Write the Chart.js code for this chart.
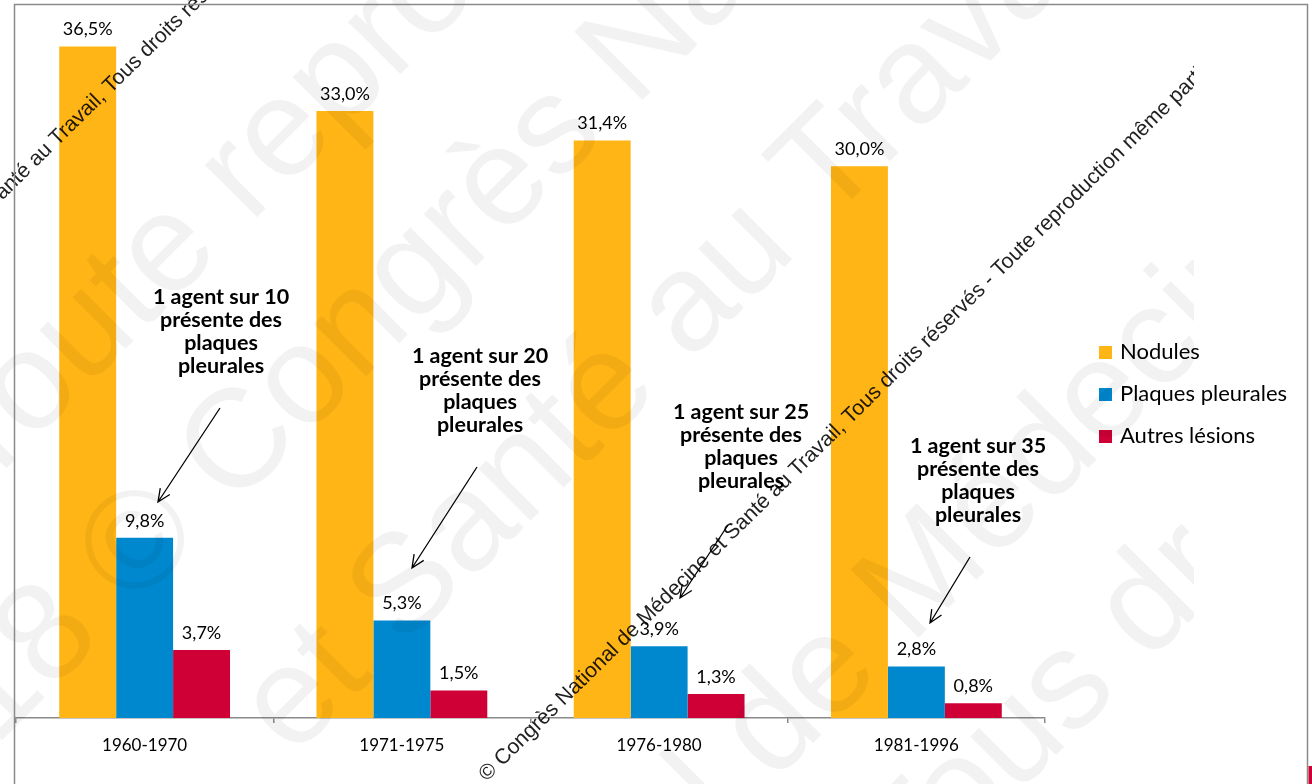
<!DOCTYPE html>
<html lang="fr">
<head>
<meta charset="utf-8">
<title>Lésions radiologiques par période d'embauche</title>
<script src="https://cdn.jsdelivr.net/npm/chart.js@4/dist/chart.umd.min.js"></script>
<style>
  html, body { margin: 0; padding: 0; background: #ffffff; }
  #wrap { width: 1312px; height: 784px; }
</style>
</head>
<body>
<div id="wrap"><canvas id="chart" width="1312" height="784"></canvas></div>
<script>
// Périodes d'embauche (axe des catégories)
const categories = ['1960-1970', '1971-1975', '1976-1980', '1981-1996'];

// Pourcentages par type de lésion
const nodules = [36.5, 33.0, 31.4, 30.0];
const plaquesPleurales = [9.8, 5.3, 3.9, 2.8];
const autresLesions = [3.7, 1.5, 1.3, 0.8];

const seriesNames = ['Nodules', 'Plaques pleurales', 'Autres lésions'];
const seriesColors = ['#FFB515', '#0088CF', '#CE0036'];

// Encadrés de commentaire, un par période
const noteHeads = ['1 agent sur 10', '1 agent sur 20', '1 agent sur 25', '1 agent sur 35'];
const noteTail = ['présente des', 'plaques', 'pleurales'];

// Mise en page des commentaires : centre du texte, première ligne, flèche (départ -> pointe)
const noteLayout = [
  { cx: 221, top: 297, from: [220, 408], to: [158, 502] },
  { cx: 480, top: 356, from: [477, 467], to: [412, 568] },
  { cx: 741, top: 412, from: [728, 525], to: [680, 598] },
  { cx: 978, top: 446, from: [970, 557], to: [930, 623] }
];

const FONT = 'Lato, "Open Sans", "DejaVu Sans", sans-serif';
const WM_FONT = '"Liberation Sans", Arial, sans-serif';
const fmt = v => v.toFixed(1).replace('.', ',') + '%';

// Filigrane : grandes lignes pâles (texte, indice du glyphe repère, centre du glyphe)
const bigMark = [
  { text: 'Toute reproduction même partielle interdite', idx: 1, x: 33, y: 370 },
  { text: '2018 © Congrès National de Médecine et Santé au Travail', idx: 5, x: 133, y: 538 },
  { text: 'et Santé au Travail, Tous droits réservés', idx: 3, x: 400, y: 580 },
  { text: '2018 © Congrès National de Médecine et Santé au Travail', idx: 30, x: 1095, y: 390 },
  { text: 'et Santé au Travail, Tous droits réservés', idx: 26, x: 1140, y: 600 }
];
const smallMarkText = '© Congrès National de Médecine et Santé au Travail, Tous droits réservés - Toute reproduction même partielle interdite';
const smallMark = [
  { idx: 0, x: 487, y: 771 },
  { idx: 52, x: 110, y: 84 }
];

function glyphAnchored(ctx, text, idx, x, y, angle, size, family) {
  ctx.save();
  ctx.font = size + 'px ' + family;
  const pre = ctx.measureText(text.slice(0, idx)).width;
  const gw = ctx.measureText(text[idx]).width;
  ctx.translate(x, y);
  ctx.rotate(angle);
  ctx.textBaseline = 'alphabetic';
  ctx.textAlign = 'left';
  ctx.fillText(text, -pre - gw / 2, size * 0.36);
  ctx.restore();
}

function drawArrow(ctx, from, to) {
  const [x1, y1] = from, [x2, y2] = to;
  const a = Math.atan2(y2 - y1, x2 - x1);
  const h = 14, spread = 0.42;
  ctx.save();
  ctx.strokeStyle = '#000';
  ctx.lineWidth = 1.3;
  ctx.beginPath();
  ctx.moveTo(x1, y1);
  ctx.lineTo(x2, y2);
  ctx.moveTo(x2 - h * Math.cos(a - spread), y2 - h * Math.sin(a - spread));
  ctx.lineTo(x2, y2);
  ctx.lineTo(x2 - h * Math.cos(a + spread), y2 - h * Math.sin(a + spread));
  ctx.stroke();
  ctx.restore();
}

const decor = {
  id: 'decor',
  beforeDraw(chart) {
    const ctx = chart.ctx;
    ctx.save();
    ctx.fillStyle = '#ffffff';
    ctx.fillRect(0, 0, chart.width, chart.height);
    ctx.restore();
  },
  afterDatasetsDraw(chart) {
    const ctx = chart.ctx;
    ctx.save();
    ctx.font = '18px ' + FONT;
    ctx.fillStyle = '#000';
    ctx.textAlign = 'center';
    ctx.textBaseline = 'bottom';
    chart.data.datasets.forEach((ds, di) => {
      chart.getDatasetMeta(di).data.forEach((bar, i) => {
        ctx.fillText(fmt(ds.data[i]), bar.x, bar.y - 8);
      });
    });
    ctx.restore();
  },
  afterDraw(chart) {
    const ctx = chart.ctx;

    // Commentaires et flèches
    ctx.save();
    ctx.fillStyle = '#000';
    ctx.textAlign = 'center';
    ctx.textBaseline = 'middle';
    ctx.font = 'bold 21.5px ' + FONT;
    noteLayout.forEach((n, i) => {
      const lines = [noteHeads[i]].concat(noteTail);
      lines.forEach((t, k) => ctx.fillText(t, n.cx, n.top + k * 23));
      drawArrow(ctx, n.from, n.to);
    });
    ctx.restore();

    // Légende
    ctx.save();
    ctx.font = '22px ' + FONT;
    ctx.textBaseline = 'middle';
    ctx.textAlign = 'left';
    seriesNames.forEach((name, i) => {
      const y = 352 + i * 42;
      ctx.fillStyle = seriesColors[i];
      ctx.fillRect(1099, y - 6, 13, 13);
      ctx.fillStyle = '#000';
      ctx.fillText(name, 1120, y);
    });
    ctx.restore();

    // Filigrane
    ctx.save();
    ctx.beginPath();
    ctx.rect(0, 0, 1194, chart.height);
    ctx.clip();
    ctx.fillStyle = 'rgba(0,0,0,0.05)';
    bigMark.forEach(m => glyphAnchored(ctx, m.text, m.idx, m.x, m.y, -Math.PI / 4, 140, WM_FONT));
    ctx.fillStyle = 'rgba(0,0,0,0.88)';
    smallMark.forEach(m => glyphAnchored(ctx, smallMarkText, m.idx, m.x, m.y, -44.5 * Math.PI / 180, 21.3, WM_FONT));
    ctx.restore();

    // Cadre
    ctx.save();
    ctx.strokeStyle = '#8a8a8a';
    ctx.lineWidth = 1.5;
    ctx.beginPath();
    ctx.moveTo(14.5, chart.height);
    ctx.lineTo(14.5, 4.5);
    ctx.lineTo(1307.5, 4.5);
    ctx.lineTo(1307.5, chart.height);
    ctx.stroke();
    ctx.fillStyle = '#CE0036';
    ctx.fillRect(1308.5, 766, 4, 18);
    ctx.restore();
  }
};

new Chart(document.getElementById('chart'), {
  type: 'bar',
  data: {
    labels: categories,
    datasets: [
      { label: seriesNames[0], data: nodules, backgroundColor: seriesColors[0] },
      { label: seriesNames[1], data: plaquesPleurales, backgroundColor: seriesColors[1] },
      { label: seriesNames[2], data: autresLesions, backgroundColor: seriesColors[2] }
    ]
  },
  options: {
    responsive: false,
    animation: false,
    devicePixelRatio: 1,
    layout: { padding: { left: 16, right: 267, top: 19, bottom: 0 } },
    datasets: { bar: { categoryPercentage: 0.664, barPercentage: 1.0, borderWidth: 0 } },
    plugins: { legend: { display: false }, tooltip: { enabled: false } },
    scales: {
      x: {
        type: 'category',
        offset: true,
        grid: { offset: true, drawOnChartArea: false, drawTicks: true, tickLength: 5, color: '#8a8a8a', lineWidth: 1.5 },
        border: { display: true, color: '#8a8a8a', width: 1.5 },
        ticks: { color: '#000', font: { family: FONT, size: 17 }, padding: 12 },
        afterFit(scale) { scale.height = 66; }
      },
      y: { display: false, min: 0, max: 38 }
    }
  },
  plugins: [decor]
});
</script>
</body>
</html>
